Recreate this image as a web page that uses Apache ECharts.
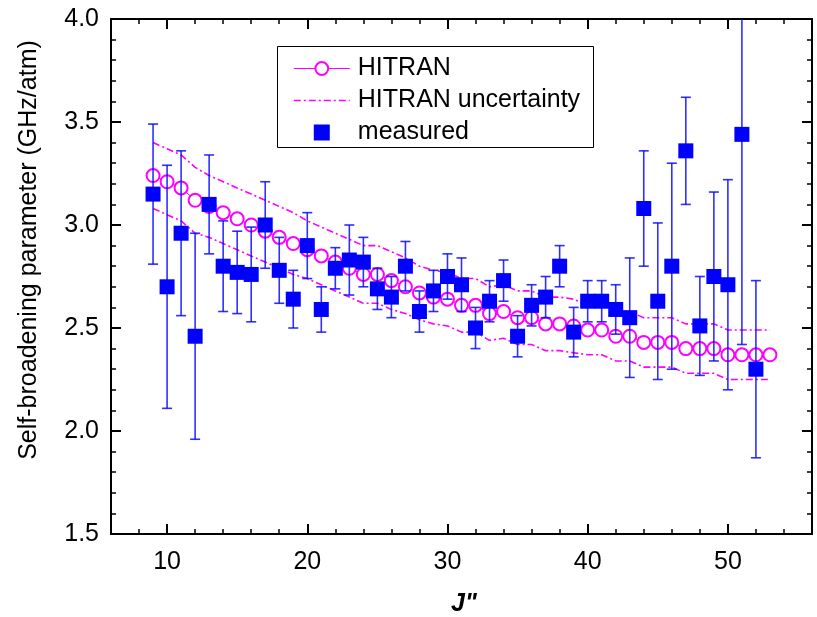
<!DOCTYPE html>
<html>
<head>
<meta charset="utf-8">
<script src="https://cdn.jsdelivr.net/npm/echarts@6/dist/echarts.min.js"></script>
<style>
  html, body { margin: 0; padding: 0; background: #fff; }
  #chart { width: 817px; height: 617px; }
</style>
</head>
<body>
<div id="chart"></div>
<script>
// Rotational quantum number J'' for the HITRAN reference curve
const hitranJ = [9, 10, 11, 12, 13, 14, 15, 16, 17, 18, 19, 20, 21, 22, 23, 24, 25, 26, 27, 28, 29, 30,
  31, 32, 33, 34, 35, 36, 37, 38, 39, 40, 41, 42, 43, 44, 45, 46, 47, 48, 49, 50, 51, 52, 53];
// HITRAN self-broadening parameter (GHz/atm)
const hitranValues = [3.24, 3.21, 3.18, 3.12, 3.09, 3.06, 3.03, 3.00, 2.97, 2.94, 2.91, 2.88, 2.85, 2.82,
  2.79, 2.76, 2.76, 2.73, 2.70, 2.67, 2.65, 2.64, 2.61, 2.61, 2.57, 2.58, 2.55, 2.55, 2.52, 2.52, 2.51,
  2.49, 2.49, 2.46, 2.46, 2.43, 2.43, 2.43, 2.40, 2.40, 2.40, 2.37, 2.37, 2.37, 2.37];
// Upper and lower edges of the HITRAN uncertainty band
const hitranUpper = [3.40, 3.37, 3.34, 3.28, 3.24, 3.21, 3.18, 3.15, 3.12, 3.09, 3.06, 3.02, 2.99, 2.96,
  2.93, 2.90, 2.90, 2.87, 2.84, 2.80, 2.78, 2.77, 2.74, 2.74, 2.70, 2.71, 2.68, 2.68, 2.65, 2.65, 2.64,
  2.61, 2.61, 2.58, 2.58, 2.55, 2.55, 2.55, 2.52, 2.52, 2.52, 2.49, 2.49, 2.49, 2.49];
const hitranLower = [3.08, 3.05, 3.02, 2.96, 2.94, 2.91, 2.88, 2.85, 2.82, 2.79, 2.76, 2.74, 2.71, 2.68,
  2.65, 2.62, 2.62, 2.59, 2.57, 2.54, 2.52, 2.51, 2.48, 2.48, 2.44, 2.45, 2.42, 2.42, 2.39, 2.39, 2.38,
  2.37, 2.37, 2.34, 2.34, 2.31, 2.31, 2.31, 2.28, 2.28, 2.28, 2.25, 2.25, 2.25, 2.25];

// Measured lines
const measuredJ = [9, 10, 11, 12, 13, 14, 15, 16, 17, 18, 19, 20, 21, 22, 23, 24, 25, 26, 27, 28, 29, 30,
  31, 32, 33, 34, 35, 36, 37, 38, 39, 40, 41, 42, 43, 44, 45, 46, 47, 48, 49, 50, 51, 52];
const measuredValues = [3.15, 2.70, 2.96, 2.46, 3.10, 2.80, 2.77, 2.76, 3.00, 2.78, 2.64, 2.90, 2.59, 2.79,
  2.83, 2.82, 2.69, 2.65, 2.80, 2.58, 2.68, 2.75, 2.71, 2.50, 2.63, 2.73, 2.46, 2.61, 2.65, 2.80, 2.48,
  2.63, 2.63, 2.59, 2.55, 3.08, 2.63, 2.80, 3.36, 2.51, 2.75, 2.71, 3.44, 2.30];
const measuredErrors = [0.34, 0.59, 0.40, 0.50, 0.24, 0.22, 0.20, 0.23, 0.21, 0.16, 0.14, 0.16, 0.11, 0.10,
  0.17, 0.12, 0.10, 0.10, 0.12, 0.10, 0.10, 0.11, 0.13, 0.10, 0.10, 0.10, 0.10, 0.10, 0.10, 0.10, 0.12,
  0.10, 0.10, 0.12, 0.29, 0.28, 0.38, 0.50, 0.26, 0.24, 0.41, 0.51, 1.02, 0.43];

// Axis ticks
const xMajorTicks = [10, 20, 30, 40, 50];

const FONT = '"Liberation Sans", Arial, Helvetica, sans-serif';
const MAGENTA = '#ff00ff';
const BLUE = '#0000ff';

const zip = (xs, ys) => xs.map((x, i) => [x, ys[i]]);
const errorData = measuredJ.map((j, i) => [j, measuredValues[i] - measuredErrors[i], measuredValues[i] + measuredErrors[i]]);

const chart = echarts.init(document.getElementById('chart'), null, { renderer: 'canvas' });

const frameLine = { show: true, onZero: false, lineStyle: { color: '#000', width: 2 } };
const xRange = { type: 'value', min: 6, max: 56, splitLine: { show: false } };
const bandLine = { color: MAGENTA, width: 1.6, type: [7, 3, 2, 3] };

chart.setOption({
  animation: false,
  backgroundColor: '#fff',
  grid: { left: 111, top: 19, right: 5, bottom: 83, containLabel: false, outerBoundsMode: 'none' },
  legend: {
    orient: 'vertical',
    left: 293,
    top: 56,
    padding: 0,
    itemGap: 7,
    itemWidth: 56,
    itemHeight: 16,
    symbolKeepAspect: true,
    selectedMode: false,
    textStyle: { fontFamily: FONT, fontSize: 25, color: '#000', lineHeight: 24, padding: [0, 0, 0, 3] },
    lineStyle: { width: 'inherit' },
    itemStyle: { borderWidth: 'inherit' },
    data: [
      { name: 'HITRAN' },
      { name: 'HITRAN uncertainty', itemStyle: { opacity: 0 } },
      { name: 'measured', icon: 'path://M0,0H10V10H0Z' }
    ]
  },
  graphic: [
    {
      type: 'rect',
      shape: { x: 277.5, y: 46.5, width: 316, height: 101 },
      style: { fill: 'none', stroke: '#000', lineWidth: 1 },
      z: 10
    },
    {
      type: 'text',
      x: 29,
      y: 250,
      rotation: Math.PI / 2,
      style: {
        text: 'Self-broadening parameter (GHz/atm)',
        font: '25px ' + FONT,
        fill: '#000',
        align: 'center',
        verticalAlign: 'middle'
      }
    },
    {
      type: 'text',
      x: 464,
      y: 604,
      style: {
        text: 'J"',
        font: 'italic bold 25px ' + FONT,
        fill: '#000',
        align: 'center',
        verticalAlign: 'middle'
      }
    }
  ],
  xAxis: [
    Object.assign({}, xRange, {
      position: 'bottom',
      axisLine: frameLine,
      axisTick: { show: true, inside: true, length: 10, customValues: xMajorTicks, lineStyle: { color: '#000', width: 2 } },
      axisLabel: { show: true, customValues: xMajorTicks, margin: 16, fontFamily: FONT, fontSize: 25, color: '#000' }
    }),
    Object.assign({}, xRange, {
      position: 'bottom', interval: 2,
      axisLine: { show: false },
      axisTick: { show: true, inside: true, length: 5, lineStyle: { color: '#000', width: 1.5 } },
      axisLabel: { show: false }
    }),
    Object.assign({}, xRange, {
      position: 'top',
      axisLine: frameLine,
      axisTick: { show: true, inside: true, length: 10, customValues: xMajorTicks, lineStyle: { color: '#000', width: 2 } },
      axisLabel: { show: false }
    }),
    Object.assign({}, xRange, {
      position: 'top', interval: 2,
      axisLine: { show: false },
      axisTick: { show: true, inside: true, length: 5, lineStyle: { color: '#000', width: 1.5 } },
      axisLabel: { show: false }
    })
  ],
  yAxis: [
    {
      type: 'value', min: 1.5, max: 4.0, interval: 0.5, position: 'left',
      axisLine: frameLine,
      axisTick: { show: true, inside: true, length: 10, lineStyle: { color: '#000', width: 2 } },
      minorTick: { show: true, splitNumber: 5, length: 5, lineStyle: { color: '#000', width: 1.5 } },
      axisLabel: { margin: 12, fontFamily: FONT, fontSize: 25, color: '#000', formatter: v => v.toFixed(1) },
      splitLine: { show: false }, minorSplitLine: { show: false }
    },
    {
      type: 'value', min: 1.5, max: 4.0, interval: 0.5, position: 'right',
      axisLine: frameLine,
      axisTick: { show: true, inside: true, length: 10, lineStyle: { color: '#000', width: 2 } },
      minorTick: { show: true, splitNumber: 5, length: 5, lineStyle: { color: '#000', width: 1.5 } },
      axisLabel: { show: false },
      splitLine: { show: false }, minorSplitLine: { show: false }
    }
  ],
  series: [
    {
      name: 'HITRAN uncertainty', type: 'line', xAxisIndex: 0, yAxisIndex: 0,
      data: zip(hitranJ, hitranUpper), symbol: 'none', showSymbol: false,
      lineStyle: bandLine, itemStyle: { color: MAGENTA }, z: 2
    },
    {
      name: 'HITRAN uncertainty', type: 'line', xAxisIndex: 0, yAxisIndex: 0,
      data: zip(hitranJ, hitranLower), symbol: 'none', showSymbol: false,
      lineStyle: bandLine, itemStyle: { color: MAGENTA }, z: 2
    },
    {
      name: 'HITRAN', type: 'line', xAxisIndex: 0, yAxisIndex: 0,
      data: zip(hitranJ, hitranValues),
      symbol: 'emptyCircle', symbolSize: 13, showAllSymbol: true,
      lineStyle: { color: MAGENTA, width: 1 },
      itemStyle: { color: MAGENTA, borderColor: MAGENTA, borderWidth: 1.4 }, z: 3
    },
    {
      name: 'error', type: 'custom', xAxisIndex: 0, yAxisIndex: 0,
      data: errorData, clip: true, z: 4,
      renderItem: function (params, api) {
        const x = api.value(0);
        const lo = api.coord([x, api.value(1)]);
        const hi = api.coord([x, api.value(2)]);
        const half = 5;
        const style = { stroke: 'rgba(10, 10, 255, 0.85)', lineWidth: 1.6 };
        return {
          type: 'group',
          children: [
            { type: 'line', shape: { x1: lo[0], y1: lo[1], x2: hi[0], y2: hi[1] }, style: style },
            { type: 'line', shape: { x1: hi[0] - half, y1: hi[1], x2: hi[0] + half, y2: hi[1] }, style: style },
            { type: 'line', shape: { x1: lo[0] - half, y1: lo[1], x2: lo[0] + half, y2: lo[1] }, style: style }
          ]
        };
      }
    },
    {
      name: 'measured', type: 'scatter', xAxisIndex: 0, yAxisIndex: 0,
      data: zip(measuredJ, measuredValues),
      symbol: 'rect', symbolSize: 15,
      itemStyle: { color: BLUE, opacity: 1 }, z: 5
    }
  ]
});
</script>
</body>
</html>
